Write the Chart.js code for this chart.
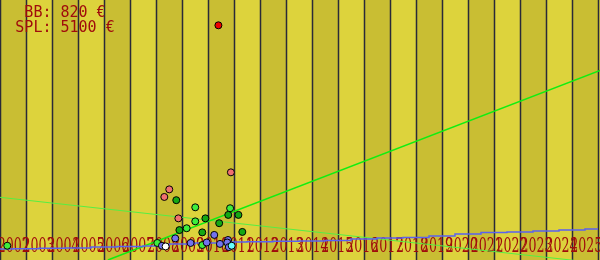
<!DOCTYPE html>
<html>
<head>
<meta charset="utf-8">
<script src="https://cdn.jsdelivr.net/npm/chart.js@4"></script>
<style>
  html, body { margin: 0; padding: 0; background: #ddd43d; }
  #wrap { width: 600px; height: 260px; }
</style>
</head>
<body>
<div id="wrap"><canvas id="chart" width="600" height="260"></canvas></div>
<script>
const years = ['2002', '2003', '2004', '2005', '2006', '2007', '2008', '2009', '2010', '2011', '2012', '2013',
  '2014', '2015', '2016', '2017', '2018', '2019', '2020', '2021', '2022', '2023', '2024', '2025'];

const headerLines = ['BB: 820 €', 'SPL: 5100 €'];

// sales, x = date as decimal year, y = price in €
const redSales = [{x: 2010.40, y: 5100}];
const pinkSales = [
  {x: 2010.88, y: 1905}, {x: 2008.51, y: 1535}, {x: 2008.32, y: 1370}, {x: 2008.86, y: 905},
];
const darkGreenSales = [
  {x: 2008.78, y: 1300}, {x: 2010.78, y: 980}, {x: 2011.17, y: 980}, {x: 2009.90, y: 905},
  {x: 2010.43, y: 800}, {x: 2008.90, y: 650}, {x: 2009.78, y: 600}, {x: 2011.32, y: 610},
];
const lightGreenSales = [
  {x: 2009.51, y: 1145}, {x: 2010.85, y: 1125}, {x: 2009.51, y: 840}, {x: 2009.18, y: 690},
  {x: 2008.05, y: 370}, {x: 2009.78, y: 325}, {x: 2002.28, y: 310},
];
const blueSales = [
  {x: 2010.24, y: 545}, {x: 2008.74, y: 470}, {x: 2008.23, y: 310}, {x: 2009.33, y: 370},
  {x: 2009.95, y: 380}, {x: 2010.46, y: 350}, {x: 2010.77, y: 435}, {x: 2010.74, y: 380},
  {x: 2010.80, y: 280},
];
const cyanSales = [{x: 2010.91, y: 310}];
const whiteSales = [{x: 2008.37, y: 295}];

const risingTrend = [{x: 2006.15, y: 0}, {x: 2025.08, y: 4120}];
const fallingTrend = [{x: 2002.0, y: 1362}, {x: 2025.08, y: -70}];

const baseValues = [239, 246, 254, 261, 282, 293, 304, 348, 369, 391, 398, 406,
  413, 424, 456, 478, 489, 522, 565, 598, 608, 630, 652, 674];

function yearlyPoints(values) {
  return values.map((y, i) => ({x: 2002 + i, y}));
}

const backdrop = {
  id: 'backdrop',
  beforeDatasetsDraw(chart) {
    const {ctx, chartArea, scales} = chart;
    const x = scales.x;
    ctx.save();
    for (let i = 0; i < years.length; i++) {
      const left = x.getPixelForValue(2002 + i);
      const right = x.getPixelForValue(2003 + i);
      ctx.fillStyle = (i % 2 === 0) ? '#c9be33' : '#ddd33c';
      ctx.fillRect(left, chartArea.top, right - left, chartArea.bottom - chartArea.top);
    }
    ctx.strokeStyle = '#2a2a38';
    ctx.lineWidth = 1.5;
    for (let i = 0; i < years.length; i++) {
      const px = Math.round(x.getPixelForValue(2002 + i)) + 0.5;
      ctx.beginPath();
      ctx.moveTo(px, chartArea.top);
      ctx.lineTo(px, chartArea.bottom);
      ctx.stroke();
    }
    // year labels, squeezed like the original
    const xl = scales.xl;
    ctx.fillStyle = '#a00c0c';
    ctx.font = '21px "DejaVu Serif"';
    ctx.textAlign = 'center';
    ctx.textBaseline = 'alphabetic';
    years.forEach((label, i) => {
      ctx.fillText(label, xl.getPixelForValue(i), chartArea.bottom - 8, 32);
    });
    // header
    ctx.font = '15px "DejaVu Sans Mono"';
    headerLines.forEach((line, i) => {
      ctx.fillText(line, chartArea.left + 65, chartArea.top + 17 + i * 15);
    });
    ctx.restore();
  }
};

function dots(data, color) {
  return {
    type: 'scatter',
    data,
    backgroundColor: color,
    borderColor: '#000',
    borderWidth: 1,
    pointRadius: 3.5,
  };
}

function trend(data, color, width, stepped) {
  return {
    type: 'line',
    data,
    borderColor: color,
    borderWidth: width,
    pointRadius: 0,
    stepped: stepped || false,
    fill: false,
  };
}

new Chart(document.getElementById('chart'), {
  type: 'scatter',
  data: {
    datasets: [
      dots(redSales, '#ee0000'),
      dots(cyanSales, '#66ffff'),
      dots(whiteSales, '#ffffff'),
      dots(blueSales, '#7373ee'),
      dots(lightGreenSales, '#3dee3d'),
      dots(darkGreenSales, '#14a814'),
      dots(pinkSales, '#f07070'),
      trend(yearlyPoints(baseValues), '#5a62f0', 1.5, 'middle'),
      trend(risingTrend, '#11ee11', 1.5),
      trend(fallingTrend, '#55ee44', 1),
    ]
  },
  plugins: [backdrop],
  options: {
    responsive: false,
    animation: false,
    devicePixelRatio: 1,
    layout: { padding: 0, autoPadding: false },
    scales: {
      x: { type: 'linear', display: false, min: 2002, max: 2002 + 600 / 26 },
      xl: { type: 'linear', axis: 'x', display: false, min: -0.55, max: 23.55 },
      y: { type: 'linear', display: false, min: 0, max: 5650 },
    },
    plugins: {
      legend: { display: false },
      tooltip: { enabled: false },
    },
  }
});
</script>
</body>
</html>
